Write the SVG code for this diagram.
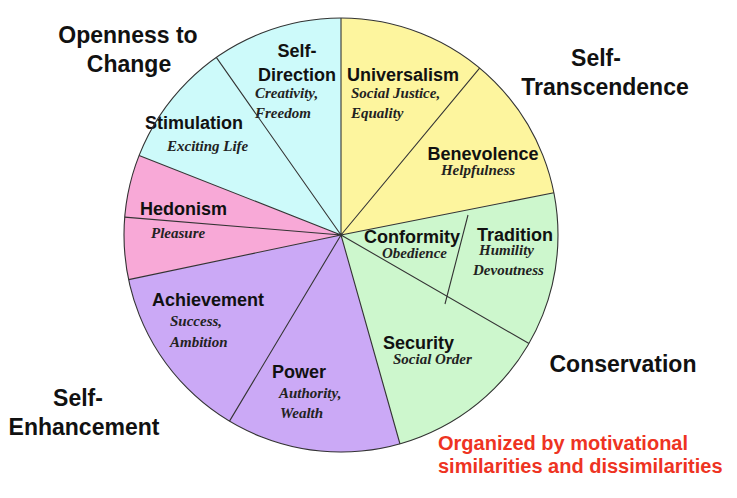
<svg xmlns="http://www.w3.org/2000/svg" width="737" height="498" viewBox="0 0 737 498">
<style>
.sec{stroke:none}
.cyan{fill:#cdfafa}
.yellow{fill:#fdf59e}
.green{fill:#cdf7cd}
.purple{fill:#cba9f6}
.pink{fill:#f8a9d7}
.div{stroke:#333;stroke-width:1.1;fill:none}
.lbl{font-family:"Liberation Sans",Arial,sans-serif;font-weight:bold;font-size:18px;fill:#111}
.sub{font-family:"Liberation Serif","Times New Roman",serif;font-style:italic;font-weight:bold;font-size:15px;fill:#222}
.grp{font-family:"Liberation Sans",Arial,sans-serif;font-weight:bold;font-size:23px;fill:#111;text-anchor:middle}
.note{font-family:"Liberation Sans",Arial,sans-serif;font-weight:bold;font-size:20px;fill:#ee3322}
</style>
<rect width="737" height="498" fill="#ffffff"/>
<g id="universalism">
<path class="sec yellow" d="M341 235 L341 18 A217 217 0 0 1 479.6 68.1 Z"/>
<text class="lbl" x="347" y="81">Universalism</text>
<text class="sub" x="351" y="98">Social Justice,</text>
<text class="sub" x="351" y="118">Equality</text>
</g>
<g id="benevolence">
<path class="sec yellow" d="M341 235 L479.6 68.1 A217 217 0 0 1 553.9 192.8 Z"/>
<text class="lbl" x="483" y="160" text-anchor="middle">Benevolence</text>
<text class="sub" x="478" y="175" text-anchor="middle">Helpfulness</text>
</g>
<g id="conformity-tradition">
<path class="sec green" d="M341 235 L553.9 192.8 A217 217 0 0 1 529 343.6 Z"/>
<text class="lbl" x="364" y="243">Conformity</text>
<text class="sub" x="382" y="258">Obedience</text>
<text class="lbl" x="477" y="241">Tradition</text>
<text class="sub" x="479" y="255">Humility</text>
<text class="sub" x="473" y="275">Devoutness</text>
</g>
<g id="security">
<path class="sec green" d="M341 235 L529 343.6 A217 217 0 0 1 400 444 Z"/>
<text class="lbl" x="383" y="349">Security</text>
<text class="sub" x="393" y="364">Social Order</text>
</g>
<g id="power">
<path class="sec purple" d="M341 235 L400 444 A217 217 0 0 1 229.5 421.1 Z"/>
<text class="lbl" x="272" y="378">Power</text>
<text class="sub" x="279" y="398">Authority,</text>
<text class="sub" x="280" y="418">Wealth</text>
</g>
<g id="achievement">
<path class="sec purple" d="M341 235 L229.5 421.1 A217 217 0 0 1 128.7 279.6 Z"/>
<text class="lbl" x="152" y="306">Achievement</text>
<text class="sub" x="170" y="326">Success,</text>
<text class="sub" x="170" y="347">Ambition</text>
</g>
<g id="hedonism">
<path class="sec pink" d="M341 235 L128.7 279.6 A217 217 0 0 1 139.1 155.4 Z"/>
<text class="lbl" x="140" y="215">Hedonism</text>
<text class="sub" x="151" y="238">Pleasure</text>
</g>
<g id="stimulation">
<path class="sec cyan" d="M341 235 L139.1 155.4 A217 217 0 0 1 216.3 57.4 Z"/>
<text class="lbl" x="145" y="129">Stimulation</text>
<text class="sub" x="167" y="151">Exciting Life</text>
</g>
<g id="self-direction">
<path class="sec cyan" d="M341 235 L216.3 57.4 A217 217 0 0 1 341 18 Z"/>
<text class="lbl" x="297" y="57" text-anchor="middle">Self-</text>
<text class="lbl" x="297" y="81" text-anchor="middle">Direction</text>
<text class="sub" x="255" y="98">Creativity,</text>
<text class="sub" x="255" y="118">Freedom</text>
</g>
<g id="connectors">
<circle class="div" cx="341" cy="235" r="217" stroke="#555"/>
<path class="div" d="M341 235 L341 18 M341 235 L479.6 68.1 M341 235 L553.9 192.8 M341 235 L529 343.6 M341 235 L400 444 M341 235 L229.5 421.1 M341 235 L128.7 279.6 M341 235 L124.7 217.1 M341 235 L139.1 155.4 M341 235 L216.3 57.4 M468 215 L445 304"/>
</g>
<g id="openness-to-change">
<text class="grp" x="128" y="43">Openness to</text>
<text class="grp" x="129" y="72">Change</text>
</g>
<g id="self-transcendence">
<text class="grp" x="596" y="66">Self-</text>
<text class="grp" x="605" y="95">Transcendence</text>
</g>
<g id="conservation">
<text class="grp" x="623" y="372">Conservation</text>
</g>
<g id="self-enhancement">
<text class="grp" x="78" y="406">Self-</text>
<text class="grp" x="84" y="435">Enhancement</text>
</g>
<g id="note">
<text class="note" x="438" y="450">Organized by motivational</text>
<text class="note" x="438" y="473">similarities and dissimilarities</text>
</g>
</svg>
